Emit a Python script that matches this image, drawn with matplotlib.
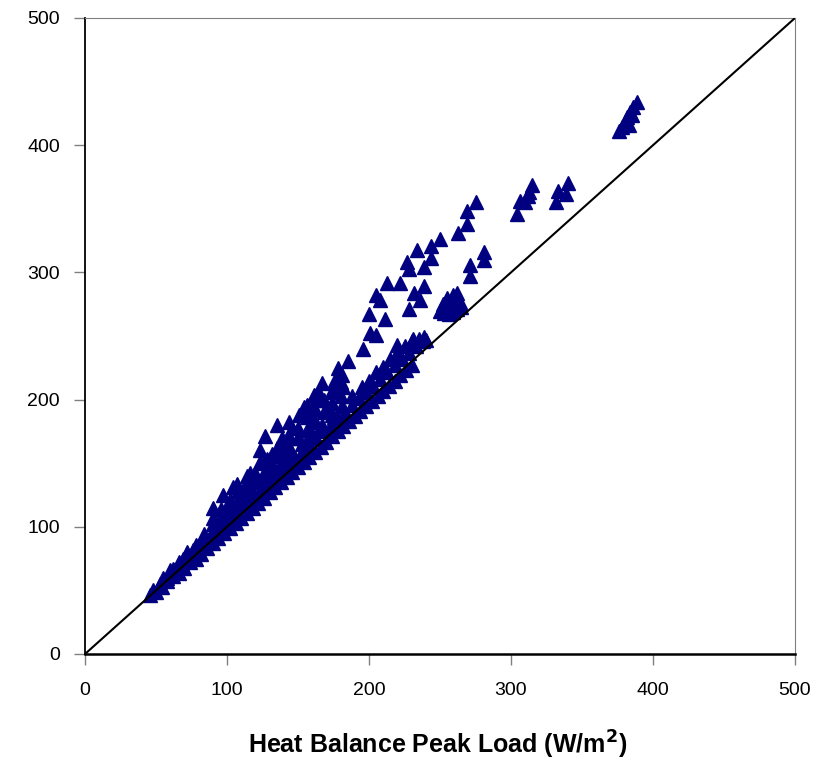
import matplotlib
matplotlib.use("Agg")
import matplotlib.pyplot as plt

plt.rcParams["font.family"] = ["Liberation Sans", "DejaVu Sans"]

# lower band, hugging the 1:1 line
lower_x = [46, 50, 54, 58, 62, 66, 70, 74, 78, 82, 86, 90, 94, 98, 102, 106, 110, 114, 118, 122,
           126, 130, 134, 138, 142, 146, 150, 154, 158, 162, 166, 170, 174, 178, 182, 186, 190,
           194, 198, 202, 206, 210, 214, 218, 222, 226, 230]
lower_y = [46, 49, 53, 57, 61, 64, 68, 72, 75, 79, 83, 87, 91, 95, 99, 103, 107, 111, 115, 119,
           123, 127, 131, 135, 139, 143, 147, 151, 155, 159, 163, 167, 171, 175, 179, 183, 187,
           191, 195, 199, 203, 207, 211, 215, 219, 223, 227]

mid_x = [48, 53, 58, 63, 68, 73, 78, 83, 88, 93, 98, 103, 108, 113, 118, 123, 128, 133, 138, 143,
         148, 153, 158, 163, 168, 173, 178, 183, 188, 193, 198, 203, 208, 213, 218, 223, 228, 233, 238]
mid_y = [50, 55, 60, 66, 71, 76, 81, 86, 92, 97, 102, 107, 112, 118, 123, 128, 133, 138, 144, 149,
         154, 159, 164, 170, 175, 180, 185, 190, 196, 201, 206, 211, 216, 222, 227, 232, 237, 242, 246]

top_band_x = [55, 62, 69, 76, 83, 90, 97, 104, 111, 118, 125, 132, 139, 146, 153, 160, 167, 174,
              181, 188, 195, 200, 205, 210, 215, 220, 225, 230, 235, 240]
top_band_y = [60, 67, 75, 82, 90, 97, 105, 112, 120, 127, 135, 143, 150, 158, 165, 173, 180, 188,
              195, 203, 210, 215, 222, 226, 232, 237, 242, 246, 248, 247]

# upper cloud
cloud1_x = [60, 66, 72, 78, 84, 90, 96, 102, 108, 114, 120, 126, 132, 138, 144, 150, 156, 162, 168, 174, 180]
cloud1_y = [66, 72, 80, 86, 94, 102, 108, 115, 122, 129, 136, 142, 149, 156, 163, 170, 176, 183, 190, 197, 203]

cloud2_x = [90, 96, 102, 108, 114, 120, 126, 132, 138, 144, 150, 156, 162, 168, 174, 180]
cloud2_y = [107, 114, 121, 128, 135, 142, 150, 157, 164, 171, 178, 186, 193, 200, 207, 214]

fill_x = [95, 105, 115, 125, 135, 145, 155, 165, 175, 100, 110, 120, 130, 140, 150, 160, 170]
fill_y = [100, 111, 122, 133, 144, 155, 165, 176, 186, 113, 125, 136, 148, 159, 170, 182, 193]

edge_x = [90, 97, 104, 107, 114, 116, 123, 123, 127, 128, 135, 135, 139, 144, 146, 151, 154, 156,
          158, 161, 163, 165, 167, 175, 175, 177, 178, 181, 182, 185]
edge_y = [115, 125, 131, 134, 140, 142, 160, 151, 171, 153, 162, 180, 170, 182, 178, 188, 194, 196,
          192, 204, 200, 205, 213, 206, 214, 215, 225, 219, 210, 230]

# scattered points above the band
sparse_x = [196, 201, 205, 211, 200, 208, 205, 213, 222, 228, 236, 232, 239, 227, 228, 234, 239,
            244, 244, 250, 263, 269, 269, 275, 281, 281, 271, 271, 220, 231, 239]
sparse_y = [240, 252, 251, 263, 267, 278, 282, 292, 292, 271, 278, 284, 289, 308, 303, 318, 304,
            311, 321, 326, 331, 338, 348, 355, 316, 310, 306, 297, 243, 248, 249]

clump_x = [250, 253, 256, 259, 262, 252, 256, 260, 264, 255, 259, 262, 258, 265, 253]
clump_y = [270, 268, 267, 269, 271, 275, 275, 277, 277, 280, 282, 284, 272, 273, 272]

high_x = [304, 306, 310, 313, 315, 312, 332, 333, 339, 340, 376, 378, 380, 382, 384, 386, 385, 389, 383]
high_y = [346, 356, 355, 363, 369, 360, 355, 364, 362, 370, 411, 414, 418, 422, 426, 430, 424, 434, 416]

ticks = [0, 100, 200, 300, 400, 500]

fig = plt.figure(figsize=(8.32, 7.6), dpi=100)
ax = fig.add_axes([85/832, 1-654/760, 710/832, 636/760])

all_x = (lower_x + mid_x + top_band_x + cloud1_x + cloud2_x + fill_x + edge_x
         + sparse_x + clump_x + high_x)
all_y = (lower_y + mid_y + top_band_y + cloud1_y + cloud2_y + fill_y + edge_y
         + sparse_y + clump_y + high_y)
ax.plot(all_x, all_y, linestyle="none", marker="^", markersize=9.5,
        color="#000080", markeredgecolor="#000080", zorder=2)

ax.plot([0, 500], [0, 500], color="black", lw=1.5, zorder=3)

ax.set_xlim(0, 500)
ax.set_ylim(0, 500)
ax.set_xticks(ticks)
ax.set_yticks(ticks)
ax.tick_params(axis="both", direction="out", length=8, width=1, color="#808080",
               labelsize=14, labelcolor="black")
ax.tick_params(axis="y", pad=10)
ax.tick_params(axis="x", pad=12)

ax.spines["left"].set_color("black")
ax.spines["left"].set_linewidth(1.3)
ax.spines["bottom"].set_color("black")
ax.spines["bottom"].set_linewidth(1.8)
ax.spines["top"].set_color("#808080")
ax.spines["right"].set_color("#808080")

fig.text(438/832, 1-745/760, "Heat Balance Peak Load (W/m$^\\mathbf{2}$)",
         ha="center", va="center", fontsize=18, fontweight="bold")

fig.savefig("out.png", dpi=100)
